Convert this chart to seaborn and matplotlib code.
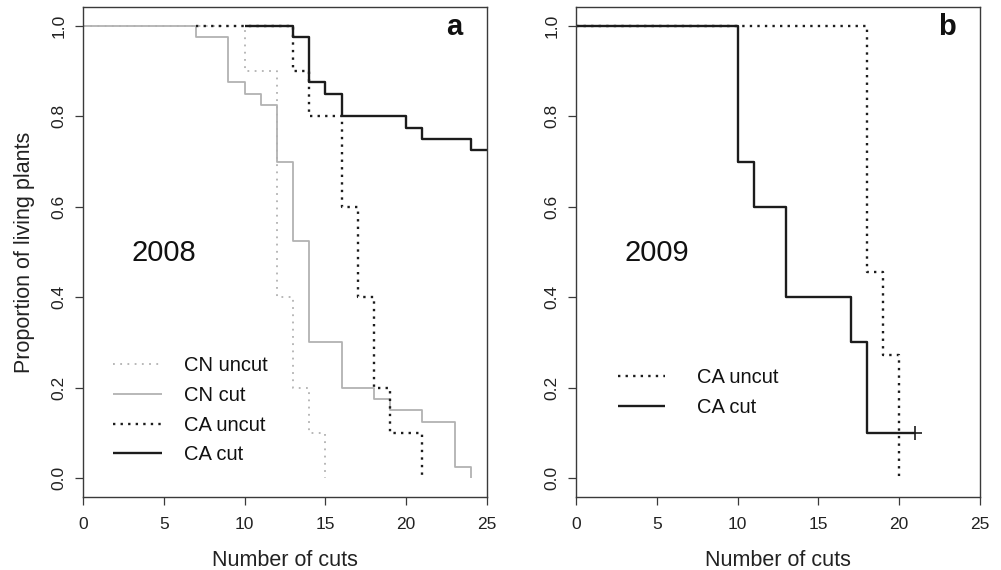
import numpy as np
import pandas as pd
import matplotlib
matplotlib.use("Agg")
import matplotlib.pyplot as plt
import seaborn as sns

# ---------------- data ----------------
# Panel a (2008)
cn_uncut_a_t = [0, 10, 12, 13, 14, 15]
cn_uncut_a_s = [1.0, 0.9, 0.4, 0.2, 0.1, 0.0]
cn_cut_a_t = [0, 7, 9, 10, 11, 12, 13, 14, 16, 18, 19, 21, 23, 24]
cn_cut_a_s = [1.0, 0.975, 0.875, 0.85, 0.825, 0.7, 0.525, 0.3, 0.2, 0.175, 0.15, 0.125, 0.025, 0.0]
ca_uncut_a_t = [7, 13, 14, 16, 17, 18, 19, 21]
ca_uncut_a_s = [1.0, 0.9, 0.8, 0.6, 0.4, 0.2, 0.1, 0.0]
ca_cut_a_t = [10, 13, 14, 15, 16, 20, 21, 24, 25]
ca_cut_a_s = [1.0, 0.975, 0.875, 0.85, 0.8, 0.775, 0.75, 0.725, 0.725]

# Panel b (2009)
ca_uncut_b_t = [0, 18, 19, 20]
ca_uncut_b_s = [1.0, 0.455, 0.273, 0.0]
ca_cut_b_t = [0, 10, 11, 13, 17, 18, 21]
ca_cut_b_s = [1.0, 0.7, 0.6, 0.4, 0.3, 0.1, 0.1]
censor_b_t = [21]
censor_b_s = [0.1]

series_labels = ["CN uncut", "CN cut", "CA uncut", "CA cut"]
x_ticks = [0, 5, 10, 15, 20, 25]
y_ticks = [0.0, 0.2, 0.4, 0.6, 0.8, 1.0]
y_tick_labels = ["0.0", "0.2", "0.4", "0.6", "0.8", "1.0"]
year_labels = ["2008", "2009"]
panel_letters = ["a", "b"]
x_label = "Number of cuts"
y_label = "Proportion of living plants"

# ---------------- style ----------------
sns.set_theme(style="ticks")
plt.rcParams["font.family"] = ["Liberation Sans", "DejaVu Sans"]

GRAY = "#b2b2b2"
BLACK = "#1c1c1c"
AXC = "#3a3a3a"

styles = {
    "CN uncut": dict(color=GRAY, lw=1.3, ls=(0, (1, 3.0))),
    "CN cut": dict(color=GRAY, lw=1.3, ls="-"),
    "CA uncut": dict(color=BLACK, lw=1.7, ls=(0, (1, 2.2))),
    "CA cut": dict(color=BLACK, lw=1.7, ls="-"),
}

W, H = 1001, 570
fig = plt.figure(figsize=(W / 100, H / 100), dpi=100)
ax_a = fig.add_axes([83 / W, (H - 497) / H, 404 / W, 490 / H])
ax_b = fig.add_axes([576 / W, (H - 497) / H, 404 / W, 490 / H])


def draw(ax, t, s, label, legend=True):
    df = pd.DataFrame({"t": t, "s": s})
    st = styles[label]
    sns.lineplot(data=df, x="t", y="s", ax=ax, estimator=None, errorbar=None,
                 sort=False, drawstyle="steps-post", color=st["color"],
                 linewidth=st["lw"], linestyle=st["ls"],
                 label=label if legend else None, solid_capstyle="butt",
                 dash_capstyle="butt")


draw(ax_a, cn_uncut_a_t, cn_uncut_a_s, "CN uncut")
draw(ax_a, cn_cut_a_t, cn_cut_a_s, "CN cut")
draw(ax_a, ca_uncut_a_t, ca_uncut_a_s, "CA uncut")
draw(ax_a, ca_cut_a_t, ca_cut_a_s, "CA cut")

draw(ax_b, ca_uncut_b_t, ca_uncut_b_s, "CA uncut")
draw(ax_b, ca_cut_b_t, ca_cut_b_s, "CA cut")
sns.scatterplot(x=censor_b_t, y=censor_b_s, ax=ax_b, marker="+", s=110,
                color=BLACK, linewidth=1.2, legend=False)

for i, ax in enumerate([ax_a, ax_b]):
    ax.set_xlim(0, 25)
    ax.set_ylim(-0.042, 1.042)
    ax.set_xticks(x_ticks)
    ax.set_xticklabels([str(v) for v in x_ticks])
    ax.set_yticks(y_ticks)
    ax.set_yticklabels(y_tick_labels, rotation=90, va="center")
    ax.tick_params(direction="out", length=6, width=0.9, color=AXC,
                   labelsize=12.5, labelcolor="#222222")
    ax.tick_params(axis="x", pad=8.5)
    ax.tick_params(axis="y", pad=6)
    for sp in ax.spines.values():
        sp.set_visible(True)
        sp.set_color(AXC)
        sp.set_linewidth(1.0)
    ax.set_xlabel(x_label, fontsize=15.5, color="#222222", labelpad=13)
    ax.set_ylabel("")
    ax.text(0.2, 0.498, year_labels[i], transform=ax.transAxes, fontsize=21,
            ha="center", va="center", color="#111111")
    ax.text(0.918, 0.943, panel_letters[i], transform=ax.transAxes,
            fontsize=21, fontweight="bold", ha="center", va="baseline",
            color="#111111")
    ax.grid(False)

ax_a.set_ylabel(y_label, fontsize=15.5, color="#222222", labelpad=11.5)

leg_a = ax_a.legend(loc="center left", bbox_to_anchor=(0.075, 0.177),
                    frameon=False, fontsize=14.5, handlelength=2.4,
                    handletextpad=1.1, labelspacing=0.53, borderpad=0,
                    borderaxespad=0)
leg_b = ax_b.legend(loc="center left", bbox_to_anchor=(0.105, 0.213),
                    frameon=False, fontsize=14.5, handlelength=2.3,
                    handletextpad=1.6, labelspacing=0.55, borderpad=0,
                    borderaxespad=0)
for leg in (leg_a, leg_b):
    for txt in leg.get_texts():
        txt.set_color("#111111")

fig.savefig("out.png", dpi=100)
